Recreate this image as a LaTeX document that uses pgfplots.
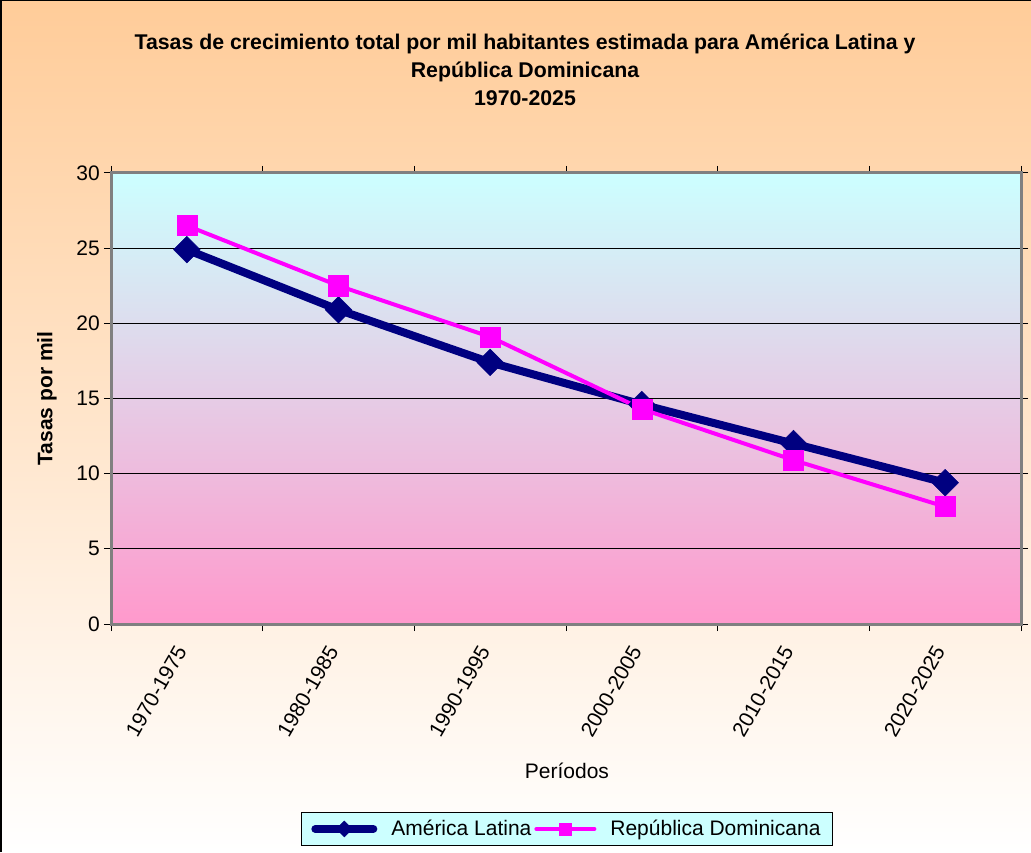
\documentclass[border=0pt]{standalone}
\usepackage{pgfplots}
\pgfplotsset{compat=1.18}
\usepackage{fontspec}
\setmainfont{Liberation Sans}
\definecolor{outertop}{HTML}{FFCC99}
\definecolor{outerbot}{HTML}{FFFFFF}
\definecolor{plottop}{HTML}{CCFFFF}
\definecolor{plotbot}{HTML}{FF99CC}
\definecolor{alcol}{HTML}{000080}
\definecolor{rdcol}{HTML}{FF00FF}
\definecolor{framegray}{HTML}{808080}
\begin{document}
\begin{tikzpicture}
\shade[top color=outertop, bottom color=outerbot] (0pt,0pt) rectangle (1031pt,852pt);
\useasboundingbox (0pt,0pt) rectangle (1031pt,852pt);
\draw[black, line width=1.5pt] (0.75pt,0pt) -- (0.75pt,851.25pt) -- (1031pt,851.25pt);
\node[font=\fontsize{21.3}{28}\selectfont\bfseries, align=center] at (525pt,782pt)
  {Tasas de crecimiento total por mil habitantes estimada para América Latina y\\República Dominicana\\1970-2025};
\begin{axis}[
  at={(111pt,228pt)}, anchor=south west,
  scale only axis, width=910pt, height=451pt,
  xmin=-0.5, xmax=5.5, ymin=0, ymax=30,
  xtick={0,...,5},
  xticklabels={\mbox{1970-1975},\mbox{1980-1985},\mbox{1990-1995},\mbox{2000-2005},\mbox{2010-2015},\mbox{2020-2025}},
  minor xtick={-0.5,0.5,...,5.5},
  ytick={0,5,...,30},
  tick align=outside,
  major tick length=7pt, minor tick length=7pt,
  tick style={black, line width=1pt},
  major x tick style={draw=none},
  ymajorgrids,
  major grid style={black, line width=1.2pt},
  axis line style={draw=framegray, line width=3pt},
  axis background/.style={top color=plottop, bottom color=plotbot},
  tick label style={font=\fontsize{21}{24}\selectfont},
  /pgf/number format/assume math mode=true,
  yticklabel style={inner sep=4pt},
  xticklabel style={font=\fontsize{21}{24}\selectfont, xshift=-4pt, yshift=-14pt, rotate=60, anchor=east, inner sep=3pt},
  ylabel={Tasas por mil},
  ylabel style={font=\fontsize{21}{24}\selectfont\bfseries, at={(axis description cs:-0.0703,0.5)}, anchor=center},
  xlabel={Períodos},
  xlabel style={font=\fontsize{21}{24}\selectfont, at={(axis description cs:0.501,-0.326)}, anchor=center},
  legend columns=2,
  legend style={at={(0.501,-0.4545)}, anchor=center, draw=black, line width=1pt, fill=plottop,
    font=\fontsize{21}{24}\selectfont, inner xsep=10pt, inner ysep=6.5pt,
    /tikz/every odd column/.append style={column sep=12pt},
    /tikz/every even column/.append style={column sep=1pt}},
  legend cell align=left,
  legend image code/.code={\draw[mark repeat=2,mark phase=2,line cap=round,#1,every mark/.append style={scale=0.6}] plot coordinates {(0pt,0pt) (29pt,0pt) (58pt,0pt)};},
]
\addplot[color=alcol, line width=8pt, mark=square*, mark size=9.4pt,
  mark options={rotate=45, line width=0.5pt, fill=alcol, draw=alcol}]
  coordinates {(0,24.9) (1,20.9) (2,17.4) (3,14.6) (4,12.0) (5,9.4)};
\addlegendentry{América Latina}
\addplot[color=rdcol, line width=4pt, mark=square*, mark size=10pt,
  mark options={line width=0.5pt, fill=rdcol, draw=rdcol}]
  coordinates {(0,26.5) (1,22.5) (2,19.1) (3,14.3) (4,10.9) (5,7.8)};
\addlegendentry{República Dominicana}
\end{axis}
\end{tikzpicture}
\end{document}
